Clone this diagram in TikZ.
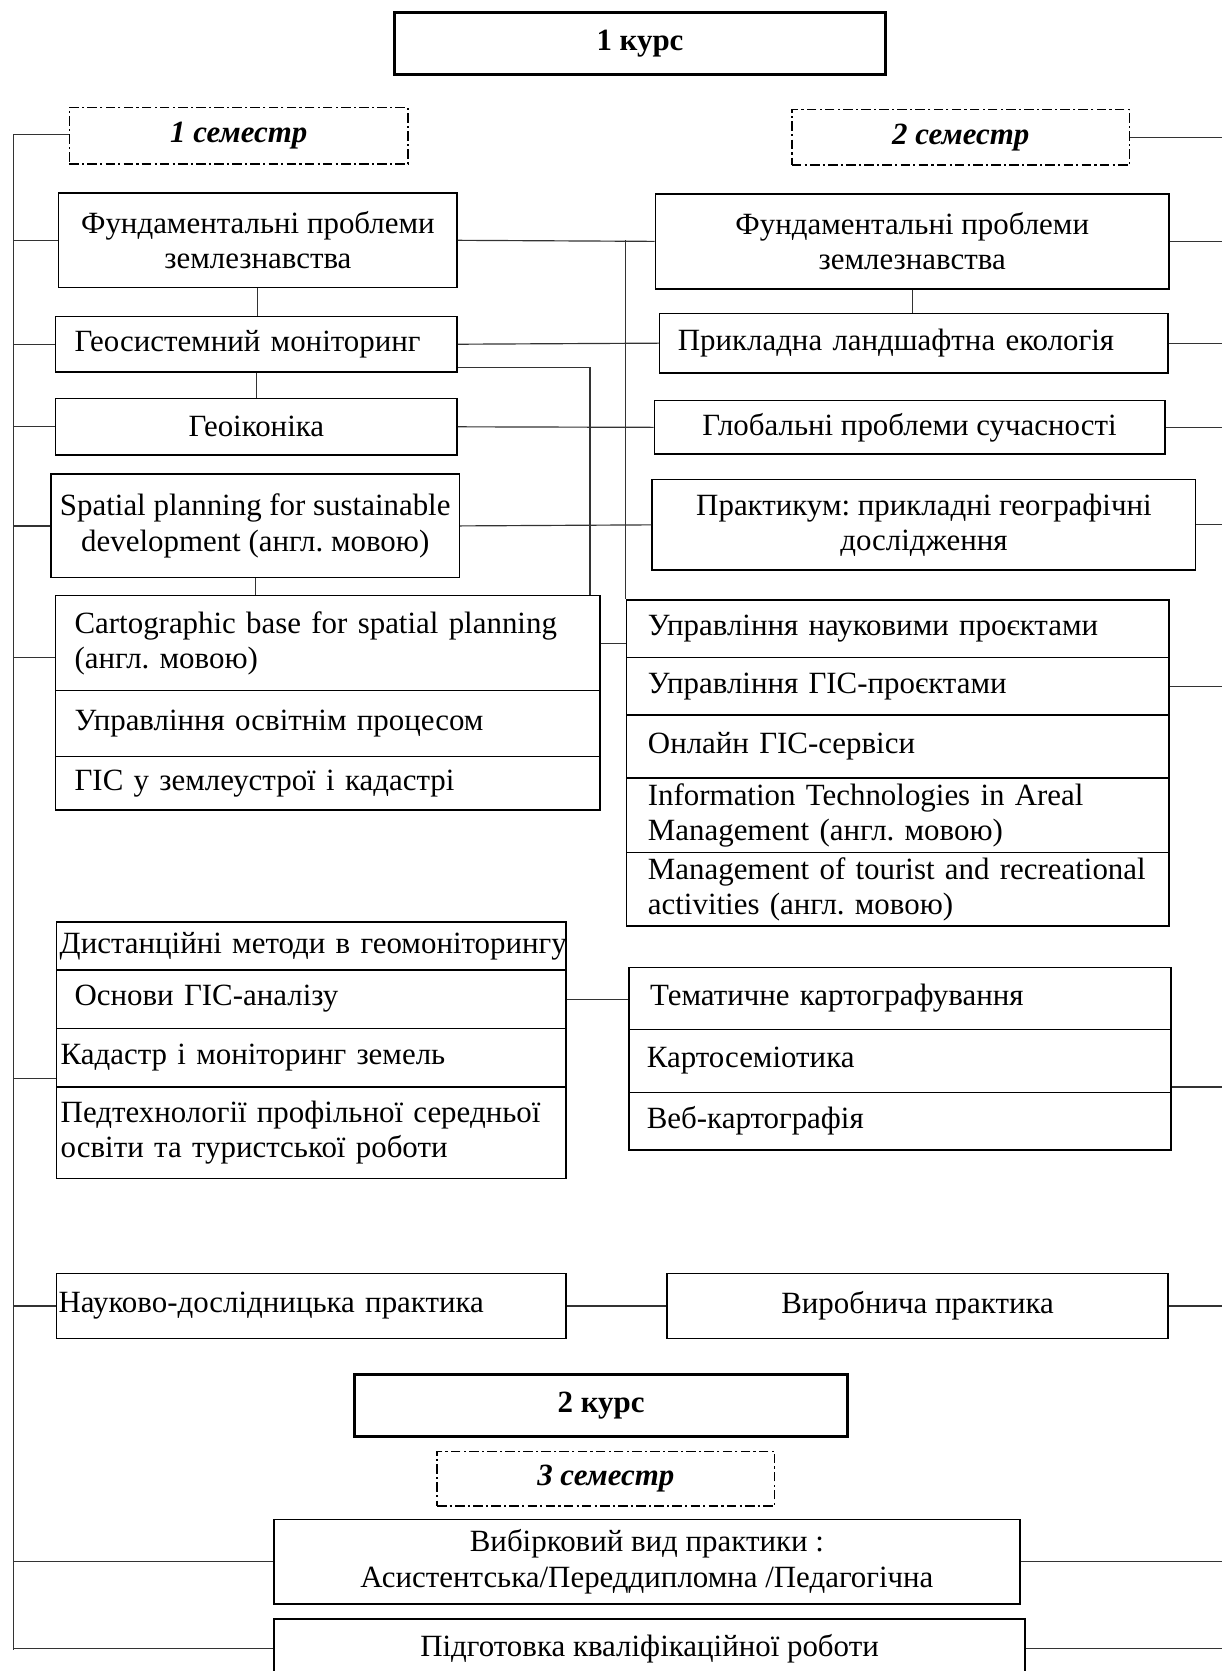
\documentclass[tikz,border=0pt]{standalone}
\usepackage{fontspec}
\setmainfont{Liberation Serif}
\usetikzlibrary{calc}
\newcommand\fsz{\fontsize{29}{33}\selectfont\frenchspacing}
\tikzset{
  box/.style={draw, line width=1.4pt, inner sep=0pt, font=\fsz, align=center},
  lbox/.style={draw, line width=1.4pt, inner ysep=0pt, font=\fsz, align=left},
  head/.style={draw, line width=2.8pt, inner sep=0pt, font=\fsz\bfseries},
  sem/.style={draw, line width=1.3pt, dash pattern=on 9pt off 3pt on 2pt off 3pt, inner sep=0pt, font=\fsz\bfseries\itshape},
  conn/.style={line width=1.1pt, draw=black!80},
}
\begin{document}
\begin{tikzpicture}[x=1pt,y=-1pt]
\useasboundingbox (0,0) rectangle (1146,1568);
% headers
\node[head, minimum width=461pt, minimum height=58pt] (K1) at (600.5,41) {1 курс};
\node[sem, minimum width=318pt, minimum height=53pt] (S1) at (224,127.5) {1 семестр};
\node[sem, minimum width=317pt, minimum height=52pt] (S2) at (901.5,129) {2 семестр};
% semester 1
\node[box, minimum width=374pt, minimum height=89pt] (A1) at (242,225.5) {Фундаментальні проблеми\\землезнавства};
\node[lbox, inner xsep=18pt, text width=341pt, minimum height=52pt] (A2) at (240.5,323) {\mbox{Геосистемний моніторинг}};
\node[box, minimum width=377pt, minimum height=53pt] (A3) at (240.5,400.5) {Геоіконіка};
\node[box, minimum width=383pt, minimum height=97pt] (A4) at (239.5,493.5) {Spatial planning for sustainable\\development (англ. мовою)};
\node[lbox, inner xsep=18pt, text width=475pt, minimum height=89pt] (A5a) at (307.5,603.5) {\mbox{Cartographic base for spatial planning}\\(англ. мовою)};
\node[lbox, inner xsep=18pt, text width=475pt, minimum height=62pt] (A5b) at (307.5,679) {\mbox{Управління освітнім процесом}};
\node[lbox, inner xsep=18pt, text width=475pt, minimum height=50pt] (A5c) at (307.5,735) {\mbox{ГІС у землеустрої і кадастрі}};
% semester 2
\node[box, minimum width=482pt, minimum height=89pt] (B1) at (856,226.5) {Фундаментальні проблеми\\землезнавства};
\node[lbox, inner xsep=17pt, text width=443pt, minimum height=56pt] (B2) at (857.5,322) {\mbox{Прикладна ландшафтна екологія}};
\node[box, minimum width=479pt, minimum height=50pt] (B3) at (853.5,401) {Глобальні проблеми сучасності};
\node[box, minimum width=510pt, minimum height=85pt] (B4) at (867,492.5) {Практикум: прикладні географічні\\дослідження};
\node[lbox, inner xsep=20pt, text width=469pt, minimum height=54pt] (B5a) at (842.5,590) {\mbox{Управління науковими проєктами}};
\node[lbox, inner xsep=20pt, text width=469pt, minimum height=54pt] (B5b) at (842.5,644) {\mbox{Управління ГІС-проєктами}};
\node[lbox, inner xsep=20pt, text width=469pt, minimum height=59pt] (B5c) at (842.5,700.5) {\mbox{Онлайн ГІС-сервіси}};
\node[lbox, inner xsep=20pt, text width=469pt, minimum height=70pt] (B5d) at (842.5,765) {\mbox{Information Technologies in Areal}\\\mbox{Management (англ. мовою)}};
\node[lbox, inner xsep=20pt, text width=469pt, minimum height=69pt] (B5e) at (842.5,834.5) {\mbox{Management of tourist and recreational}\\\mbox{activities (англ. мовою)}};
% lower left stack
\node[lbox, inner xsep=3pt, text width=472pt, minimum height=45pt] (C1) at (292,887.5) {\mbox{Дистанційні методи в геомоніторингу}};
\node[lbox, inner xsep=17pt, text width=444pt, minimum height=55pt] (C2) at (292,937.5) {\mbox{Основи ГІС-аналізу}};
\node[lbox, inner xsep=4pt, text width=470pt, minimum height=55pt] (C3) at (292,992.5) {\mbox{Кадастр і моніторинг земель}};
\node[lbox, inner xsep=4pt, text width=470pt, minimum height=86pt] (C4) at (292,1063) {\mbox{Педтехнології профільної середньої}\\\mbox{освіти та туристської роботи}};
% lower right stack
\node[lbox, inner xsep=20pt, text width=469pt, minimum height=58pt] (D1) at (844.5,937) {\mbox{Тематичне картографування}};
\node[lbox, inner xsep=17pt, text width=475pt, minimum height=59pt] (D2) at (844.5,995.5) {\mbox{Картосеміотика}};
\node[lbox, inner xsep=17pt, text width=475pt, minimum height=54pt] (D3) at (844.5,1052) {\mbox{Веб-картографія}};
% practice
\node[lbox, inner xsep=2pt, text width=474pt, minimum height=61pt] (E) at (292,1225.5) {\mbox{Науково-дослідницька практика}};
\node[box, minimum width=470pt, minimum height=61pt] (F) at (861,1225.5) {Виробнича практика};
% course 2
\node[head, minimum width=462pt, minimum height=58pt] (K2) at (564,1319) {2 курс};
\node[sem, minimum width=317pt, minimum height=51pt] (S3) at (568.5,1387.5) {3 семестр};
\node[box, minimum width=700pt, minimum height=79pt] (I) at (607,1465.5) {Вибірковий вид практики :\\Асистентська/Переддипломна /Педагогічна};
\node[box, minimum width=705pt, minimum height=56pt] (J) at (609.5,1547) {Підготовка кваліфікаційної роботи};
% left bus
\coordinate (busT) at (13,126);
\coordinate (busB) at (13,1548);
\coordinate (Rx) at (1150,0);
\draw[conn] (busT) -- (busB);
\draw[conn] (busT) -- (busT -| S1.west);
\foreach \n in {A1,A2,A3,A4,E,I,J} \draw[conn] (\n.west) -- (\n.west -| busT);
\draw[conn] ([yshift=-13.5pt]A5a.west) coordinate (a5s) -- (a5s -| busT);
\draw[conn] ([yshift=-19.5pt]C3.west) coordinate (c3s) -- (c3s -| busT);
% right stubs
\foreach \n in {S2,B1,B2,B3,B4,B5b,F,I,J} \draw[conn] (\n.east) -- (\n.east -| Rx);
\draw[conn] ([yshift=-24.5pt]D2.east) coordinate (d2s) -- (d2s -| Rx);
% internal connectors
\draw[conn] (A1.east) -- (B1.west);
\draw[conn] (B5a.north west) -- (B5a.north west |- A1.east);
\draw[conn] (A2.east) -- (B2.west);
\draw[conn] ([yshift=5pt]A2.south east) -| ([xshift=-10pt]A5a.north east);
\draw[conn] (A3.east) -- (B3.west);
\draw[conn] (A4.east) -- (B4.west);
\draw[conn] (A5a.east) -- (A5a.east -| B5a.west);
\draw[conn] (A1.south) -- (A1.south |- A2.north);
\draw[conn] (A2.south) -- (A3.north);
\draw[conn] (A4.south) -- (A4.south |- A5a.north);
\draw[conn] (B1.south) -- (B1.south |- B2.north);
\draw[conn] (C2.east) -- (C2.east -| D1.west);
\draw[conn] (E.east) -- (F.west);
\end{tikzpicture}
\end{document}
